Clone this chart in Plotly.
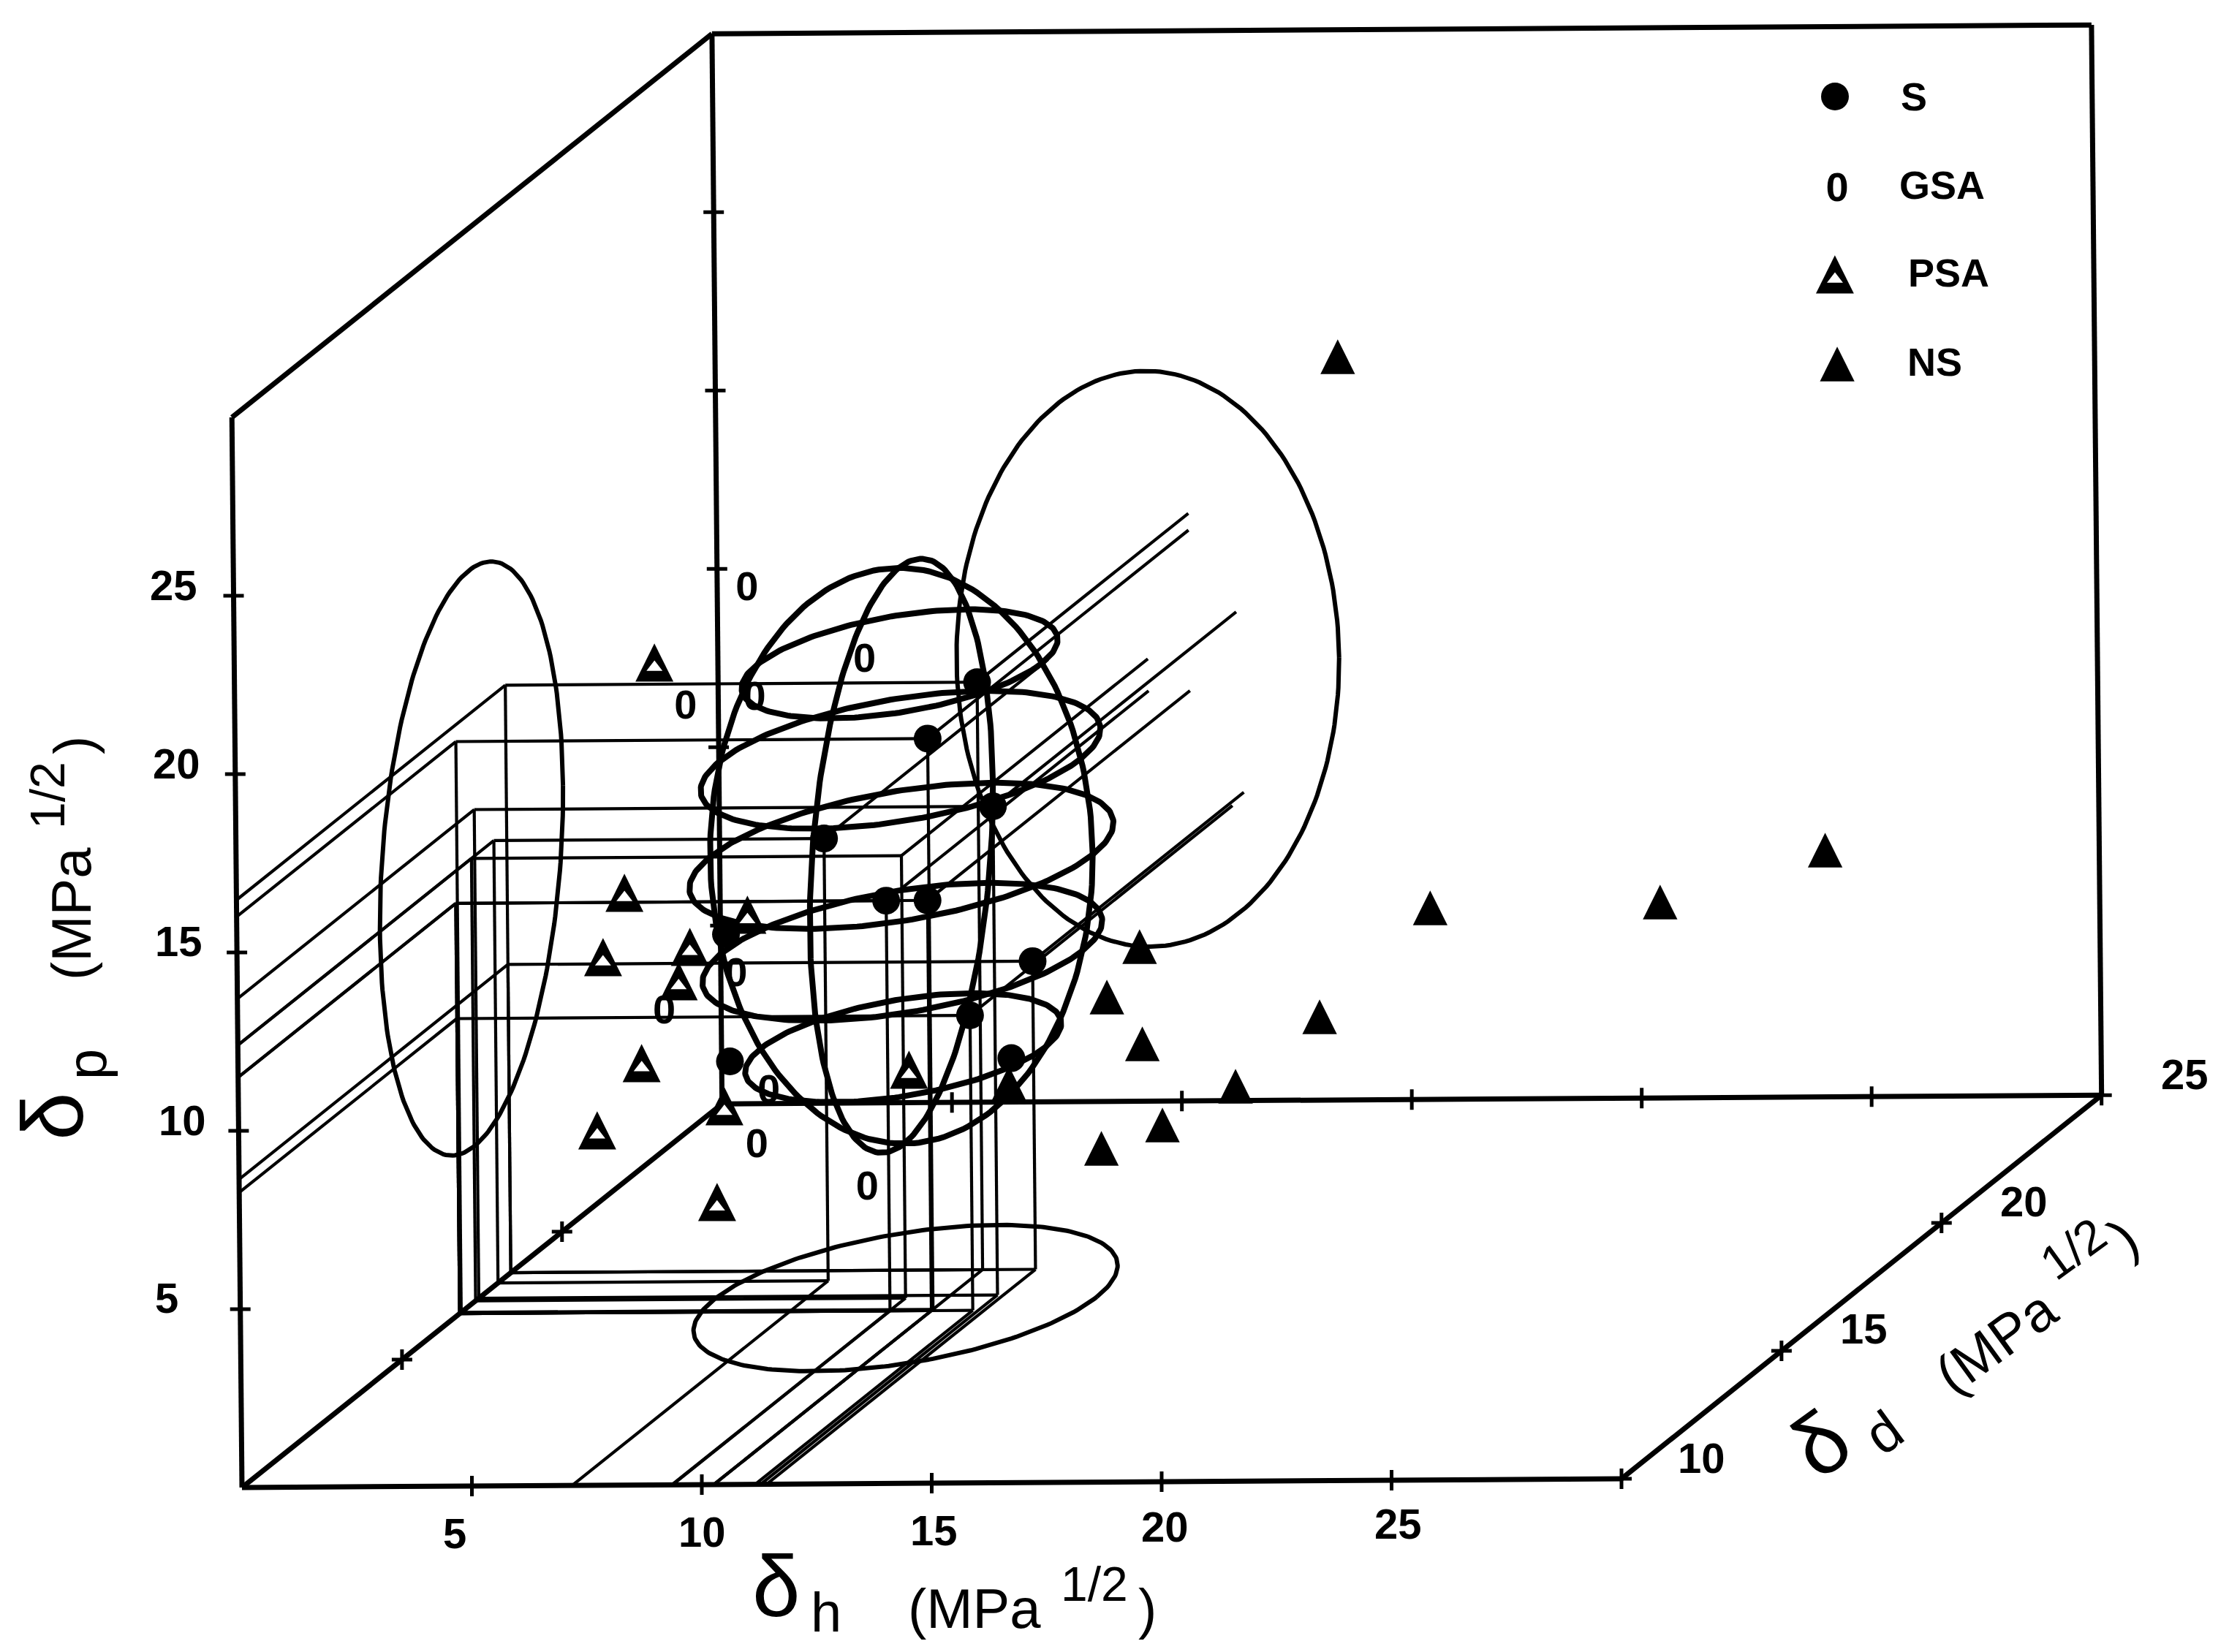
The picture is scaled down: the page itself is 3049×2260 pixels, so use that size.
import numpy as np
import plotly.graph_objects as go

W, H = 3049, 2260
FONT = "Liberation Sans"

# ---- data: delta-h, delta-p, delta-d (MPa^1/2) ----
s_box_h = [10.26, 10.26, 11.28, 7.18, 9.36, 10.26, 11.41, 11.16]
s_box_p = [16.47, 16.00, 13.70, 12.40, 11.50, 11.50, 8.64, 8.27]
s_box_d = [18.4, 16.85, 17.4, 18.0, 16.8, 16.8, 18.4, 16.8]

s_h = [5.79, 11.91, 5.73]
s_p = [6.88, 6.92, 10.44]
s_d = [17.0, 17.0, 17.0]

gsa_h = [6.26, 8.80, 4.90, 6.40, 5.94, 4.37, 6.63, 6.36, 8.75]
gsa_p = [20.26, 18.22, 16.94, 17.18, 9.45, 8.41, 6.16, 4.64, 3.44]
gsa_d = [17.0] * 9

psa_h = [4.23, 3.53, 3.05, 4.94, 4.69, 3.87, 2.89, 5.48, 5.66, 9.68, 6.20]
psa_p = [18.02, 11.57, 9.77, 10.05, 9.09, 6.80, 4.92, 2.88, 5.56, 6.56, 10.93]
psa_d = [17.0] * 11

ns_h = [19.15, 29.65, 26.05, 21.05, 14.72, 14.00, 14.76, 18.62, 16.78, 15.18, 13.85, 11.85]
ns_p = [26.47, 12.55, 11.12, 11.00, 9.97, 8.57, 7.25, 7.97, 6.05, 4.97, 4.33, 6.16]
ns_d = [17.0] * 12

# solubility ellipsoid: centre and radii
centre = (9.35, 12.4, 17.3)
radii = (4.16, 8.07, 2.86)
ring_levels = [-2 / 3, -1 / 3, 0, 1 / 3, 2 / 3]

h_ticks = [5, 10, 15, 20, 25]
p_ticks = [5, 10, 15, 20, 25]
d_ticks = [10, 15, 20, 25]
H_MAX, P_MAX, D_MIN, D_MAX = 30, 30, 10, 25

# ---- oblique projection of the three solubility axes on the page ----
UX, UY = 62.9, 48.8            # page pixels per unit of delta-h, delta-p
X0, Y0 = 331.0, 2035.0         # page position of the front-left corner


def proj(h, p, d):
    h, p, d = np.asarray(h, float), np.asarray(p, float), np.asarray(d, float)
    return h + 0.696 * (d - D_MIN) - 0.0073 * p, p + 0.717 * (d - D_MIN) + 0.0082 * h


def page(px, py):
    return (px - X0) / UX, (Y0 - py) / UY


def segs(pairs):
    xs, ys = [], []
    for a, b in pairs:
        xa, ya = proj(*a)
        xb, yb = proj(*b)
        xs += [float(xa), float(xb), None]
        ys += [float(ya), float(yb), None]
    return xs, ys


fig = go.Figure()


def add_lines(pairs, width, name):
    x, y = segs(pairs)
    fig.add_trace(go.Scatter(x=x, y=y, mode="lines", name=name, showlegend=False,
                             line=dict(color="black", width=width), hoverinfo="skip"))


# frame
frame = [
    ((0, 0, D_MIN), (0, P_MAX, D_MIN)),
    ((0, 0, D_MIN), (H_MAX, 0, D_MIN)),
    ((0, P_MAX, D_MIN), (0, P_MAX, D_MAX)),
    ((0, 0, D_MAX), (0, P_MAX, D_MAX)),
    ((0, P_MAX, D_MAX), (H_MAX, P_MAX, D_MAX)),
    ((H_MAX, 0, D_MAX), (H_MAX, P_MAX, D_MAX)),
    ((0, 0, D_MAX), (H_MAX, 0, D_MAX)),
    ((0, 0, D_MIN), (0, 0, D_MAX)),
    ((H_MAX, 0, D_MIN), (H_MAX, 0, D_MAX)),
]
add_lines(frame, 7, "frame")

# projection lines of the S solvents and the centre of the ellipsoid
box = []
for h, p, d in list(zip(s_box_h, s_box_p, s_box_d)) + [centre]:
    box += [
        ((h, p, d), (0, p, d)),
        ((h, p, d), (h, 0, d)),
        ((h, p, d), (h, p, D_MAX)),
        ((0, p, d), (0, p, D_MIN)),
        ((0, p, d), (0, 0, d)),
        ((h, 0, d), (0, 0, d)),
        ((h, 0, d), (h, 0, D_MIN)),
    ]
add_lines(box, 4.2, "projections")


def add_curve(h, p, d, width, name):
    x, y = proj(h, p, d)
    fig.add_trace(go.Scatter(x=x, y=y, mode="lines", name=name, showlegend=False,
                             line=dict(color="black", width=width), hoverinfo="skip"))


t = np.linspace(0, 2 * np.pi, 241)
c, s = np.cos(t), np.sin(t)
ch, cp, cd = centre
rh, rp, rd = radii
# shadows on the three walls
add_curve(0 * t, cp + rp * s, cd + rd * c, 6, "left wall")
add_curve(ch + rh * c, cp + rp * s, D_MAX + 0 * t, 6, "back wall")
add_curve(ch + rh * c, 0 * t, cd + rd * s, 6, "floor")
# wire ellipsoid
add_curve(ch + rh * c, cp + rp * s, cd + 0 * t, 8, "meridian dh")
add_curve(ch + 0 * t, cp + rp * s, cd + rd * c, 8, "meridian dd")
for lv in ring_levels:
    k = np.sqrt(1 - lv ** 2)
    add_curve(ch + rh * k * c, cp + rp * lv + 0 * t, cd + rd * k * s, 8, "ring")

# tick marks
tick_pts = [(v, 0, D_MIN) for v in h_ticks] + [(0, v, D_MIN) for v in p_ticks]
tick_pts += [(0, v, D_MAX) for v in p_ticks] + [(v, 0, D_MAX) for v in h_ticks]
tick_pts += [(0, 0, v) for v in d_ticks[1:3]] + [(H_MAX, 0, v) for v in d_ticks]
tx, ty = proj(*zip(*tick_pts))
fig.add_trace(go.Scatter(x=tx, y=ty, mode="markers", name="ticks", showlegend=False,
                         marker=dict(symbol="cross-thin", size=20, line=dict(color="black", width=5)),
                         hoverinfo="skip"))

# the triangles and the narrow "0" of the key are drawn as glyphs
ZERO = dict(family=FONT, size=56, color="black", weight="bold")
TRI = dict(family="DejaVu Sans", size=62, color="black")
TRI_OPEN = dict(family="DejaVu Sans", size=68, color="black")
ZERO_DY = -8 / UY
TRI_DY = 2 / UY
HOLE_DY = -4 / UY


def add_pts(x, y, name, kind):
    x, y = np.atleast_1d(x), np.atleast_1d(y)
    if kind == "dot":
        fig.add_trace(go.Scatter(x=x, y=y, mode="markers", name=name, showlegend=False,
                                 marker=dict(symbol="circle", size=38, color="black")))
    elif kind == "zero":
        fig.add_trace(go.Scatter(x=x, y=y + ZERO_DY, mode="text", text=["0"] * len(x), name=name,
                                 showlegend=False, textfont=ZERO))
    elif kind == "fill":
        fig.add_trace(go.Scatter(x=x, y=y + TRI_DY, mode="text", text=["▲"] * len(x), name=name,
                                 showlegend=False, textfont=TRI))
    else:
        fig.add_trace(go.Scatter(x=x, y=y + TRI_DY, mode="text", text=["▲"] * len(x), name=name,
                                 showlegend=False, textfont=TRI_OPEN))
        fig.add_trace(go.Scatter(x=x, y=y + HOLE_DY, mode="markers", name=name + " hollow", showlegend=False,
                                 hoverinfo="skip", marker=dict(symbol="triangle-up", size=19, color="white")))


add_pts(*proj(s_box_h + s_h, s_box_p + s_p, s_box_d + s_d), "S", "dot")
add_pts(*proj(gsa_h, gsa_p, gsa_d), "GSA", "zero")
add_pts(*proj(psa_h, psa_p, psa_d), "PSA", "open")
add_pts(*proj(ns_h, ns_p, ns_d), "NS", "fill")

# legend samples
add_pts(*page(2510, 132), "legend S", "dot")
add_pts(*page(2513, 253), "legend GSA", "zero")
add_pts(*page(2510, 378), "legend PSA", "open")
add_pts(*page(2513, 500), "legend NS", "fill")


def note(px, py, text, size, angle=0, bold=False):
    fig.add_annotation(x=px / W, y=1 - py / H, xref="paper", yref="paper", text=f"<b>{text}</b>" if bold else text,
                       showarrow=False, textangle=angle, xanchor="center", yanchor="middle",
                       font=dict(family=FONT, size=size, color="black"))


# legend labels
for px, py, lab in [(2618, 132, "S"), (2656, 253, "GSA"), (2665, 373, "PSA"), (2646, 495, "NS")]:
    note(px, py, lab, 54, bold=True)

# tick labels
for v, px, py in zip(h_ticks, [622, 960, 1277, 1593, 1912], [2097, 2095, 2093, 2088, 2084]):
    note(px, py, str(v), 58, bold=True)
for v, px, py in zip(p_ticks, [228, 249, 244, 241, 237], [1775, 1532, 1287, 1044, 800]):
    note(px, py, str(v), 58, bold=True)
for v, px, py in zip(d_ticks, [2327, 2549, 2768, 2988], [1994, 1817, 1643, 1469]):
    note(px, py, str(v), 58, bold=True)

# axis titles
note(1062, 2170, "δ", 118)
note(1130, 2205, "h", 76)
note(1333, 2200, "(MPa", 76)
note(1497, 2167, "1/2", 66)
note(1569, 2200, ")", 76)

note(72, 1527, "δ", 118, -90)
note(118, 1456, "p", 76, -90)
note(97, 1250, "(MPa", 76, -90)
note(65, 1088, "1/2", 66, -90)
note(100, 1020, ")", 76, -90)

note(2490, 1975, "δ", 118, -36)
note(2576, 1959, "d", 76, -36)
note(2730, 1835, "(MPa", 76, -36)
note(2836, 1708, "1/2", 66, -36)
note(2904, 1692, ")", 76, -36)

xmin, ymin = page(0, H)
xmax, ymax = page(W, 0)
fig.update_layout(
    width=W, height=H, autosize=False,
    margin=dict(l=0, r=0, t=0, b=0),
    paper_bgcolor="white", plot_bgcolor="white",
    showlegend=False,
    xaxis=dict(range=[xmin, xmax], visible=False, fixedrange=True),
    yaxis=dict(range=[ymin, ymax], visible=False, fixedrange=True),
)
fig.write_html("out.html", config={"displayModeBar": False},
               post_script="document.body.style.margin='0';document.documentElement.style.overflow='hidden';")
